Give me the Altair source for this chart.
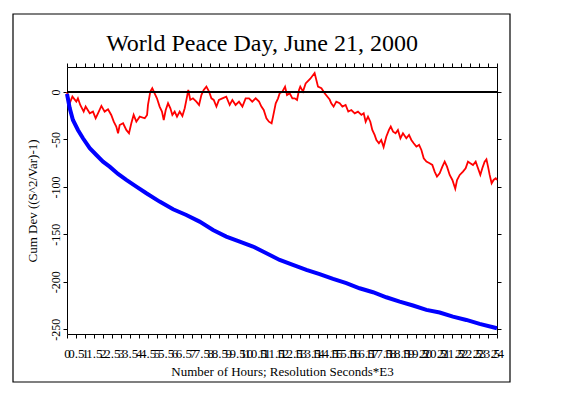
import altair as alt
import pandas as pd

# ---- data ----
hours_red = [0, 0.15, 0.30, 0.52, 0.61, 0.74, 0.93, 1.04, 1.27, 1.45, 1.60, 1.73, 1.92, 2.10, 2.29,
             2.47, 2.61, 2.75, 2.85, 2.94, 3.13, 3.31, 3.46, 3.59, 3.72, 3.87, 4.06, 4.34, 4.47,
             4.52, 4.65, 4.76, 4.89, 5.02, 5.17, 5.30, 5.40, 5.51, 5.64, 5.77, 5.88, 6.01, 6.14,
             6.29, 6.44, 6.57, 6.70, 6.77, 6.88, 7.03, 7.22, 7.37, 7.50, 7.63, 7.78, 7.93, 8.06,
             8.19, 8.34, 8.48, 8.67, 8.89, 9.08, 9.23, 9.41, 9.60, 9.79, 9.97, 10.16, 10.34, 10.53,
             10.72, 10.85, 10.98, 11.13, 11.27, 11.42, 11.50, 11.65, 11.78, 11.87, 12.02, 12.17,
             12.28, 12.43, 12.58, 12.71, 12.84, 12.95, 13.02, 13.17, 13.32, 13.58, 13.82, 14.01,
             14.20, 14.38, 14.66, 14.75, 14.88, 15.03, 15.22, 15.37, 15.55, 15.70, 15.87, 16.06,
             16.24, 16.43, 16.56, 16.67, 16.80, 16.93, 17.04, 17.17, 17.27, 17.41, 17.54, 17.67,
             17.82, 17.97, 18.07, 18.20, 18.34, 18.47, 18.61, 18.75, 18.94, 19.09, 19.22, 19.35,
             19.50, 19.65, 19.78, 19.91, 20.06, 20.24, 20.39, 20.52, 20.65, 20.80, 20.95, 21.08,
             21.21, 21.36, 21.51, 21.67, 21.77, 21.92, 22.10, 22.25, 22.38, 22.51, 22.66, 22.81,
             22.94, 23.07, 23.18, 23.31, 23.41, 23.50, 23.59, 23.70, 23.81, 23.93, 24.0]
cum_red = [0, -11.9, -4.9, -10.2, -6.7, -13.7, -20.7, -15.4, -22.5, -20.7, -27.7, -22.5, -14.7, -20.7,
           -18.3, -24.2, -31.3, -36.5, -43.5, -34.8, -33.0, -40.0, -43.5, -33.0, -24.2, -31.3, -26.0,
           -27.7, -24.2, -13.7, 0.4, 3.9, -1.4, -6.7, -15.4, -20.7, -29.5, -19.0, -11.9, -17.2, -24.2,
           -20.7, -26.0, -20.7, -25.3, -17.2, -4.9, 2.1, -8.4, -6.7, -10.2, -13.7, -3.2, 2.1, 5.6,
           0.4, -6.7, -8.4, -15.4, -8.4, -6.7, -4.9, -13.7, -8.4, -13.7, -10.2, -15.4, -6.7, -6.7,
           -10.2, -6.7, -10.2, -15.4, -19.0, -27.7, -31.3, -33.0, -26.0, -11.9, -6.7, -1.4, 0.4, 5.6,
           -3.2, -1.4, -6.7, -6.7, -8.4, 2.1, 5.6, 0.4, 9.0, 14.0, 20.0, 5.6, 4.0, -1.4, -8.0, -11.9,
           -15.4, -10.2, -11.9, -15.4, -13.7, -20.7, -19.0, -22.5, -20.7, -24.2, -22.5, -31.3, -26.0,
           -31.3, -40.0, -45.3, -50.6, -54.1, -50.6, -58.0, -47.1, -40.0, -36.5, -41.8, -43.5, -40.0,
           -48.8, -43.5, -48.8, -45.3, -50.6, -54.1, -57.6, -55.8, -61.1, -69.9, -73.4, -75.1, -76.9,
           -83.9, -89.2, -85.7, -78.7, -73.4, -78.7, -87.4, -92.7, -102.0, -92.7, -87.4, -83.9, -80.4,
           -73.4, -75.1, -76.9, -73.4, -80.4, -87.4, -80.4, -73.4, -70.9, -78.7, -87.4, -96.2, -92.7,
           -90.9, -92.7]

hours_blue = [0, 0.15, 0.33, 0.61, 0.89, 1.27, 1.64, 2.01, 2.38, 2.85, 3.31, 3.87, 4.43, 5.17, 5.92,
              6.66, 7.40, 8.15, 8.89, 9.64, 10.38, 11.13, 11.87, 12.61, 13.36, 14.10, 14.85, 15.59,
              16.33, 17.08, 17.82, 18.57, 19.31, 20.06, 20.80, 21.54, 22.29, 23.03, 23.78, 24.0]
cum_blue = [-2, -17, -29.5, -40, -48.8, -59.3, -66.4, -73.4, -78.7, -86.4, -92.7, -99.7, -106.7,
            -115.5, -123.6, -129.6, -136.6, -145.4, -152.4, -157.7, -162.9, -170, -177, -182.2,
            -187.5, -192, -197, -201.5, -206.8, -211, -216.3, -220.9, -225, -229.6, -232.4, -236.7,
            -240.2, -244.4, -247.9, -249]

x_ticks = [0, 0.5, 1, 1.5, 2, 2.5, 3, 3.5, 4, 4.5, 5, 5.5, 6, 6.5, 7, 7.5, 8, 8.5, 9, 9.5, 10,
           10.5, 11, 11.5, 12, 12.5, 13, 13.5, 14, 14.5, 15, 15.5, 16, 16.5, 17, 17.5, 18, 18.5,
           19, 19.5, 20, 20.5, 21, 21.5, 22, 22.5, 23, 23.5, 24]
y_ticks = [-250, -200, -150, -100, -50, 0]

title_text = "World Peace Day, June 21, 2000"
x_title = "Number of Hours; Resolution Seconds*E3"
y_title = "Cum Dev ((S^2/Var)-1)"

# ---- chart ----
FONT = "Liberation Serif"
W, H = 430, 267

red_df = pd.DataFrame({"hour": hours_red, "cum": cum_red})
blue_df = pd.DataFrame({"hour": hours_blue, "cum": cum_blue})
zero_df = pd.DataFrame({"cum": [0]})
frame_df = pd.DataFrame({"k": [0]})

xs = alt.Scale(domain=[0, 24], nice=False, zero=False)
ys = alt.Scale(domain=[-255, 26.3], nice=False, zero=False)

common = dict(grid=False, domainColor="black", tickColor="black", tickSize=4,
              domainWidth=1, tickWidth=1, labelColor="black", titleColor="black",
              labelFont=FONT, titleFont=FONT, titleFontWeight="normal")

x_bottom = alt.Axis(orient="bottom", values=x_ticks, format="~g", labelOverlap=False,
                    labelFlush=False, labelBound=False, labelFontSize=13, labelPadding=9,
                    title=x_title, titleFontSize=13, titlePadding=5, **common)
y_left = alt.Axis(orient="left", values=y_ticks, labelExpr="'' + datum.value",
                  labelAngle=270, labelAlign="center", labelBaseline="bottom",
                  labelOverlap=False, labelFontSize=12, labelPadding=1,
                  title=y_title, titleFontSize=13, titlePadding=10, **common)
x_top = alt.Axis(orient="top", values=x_ticks, labels=False, title=None, **common)
y_right = alt.Axis(orient="right", values=y_ticks, labels=False, title=None, **common)

red = alt.Chart(red_df).mark_line(color="#ff0000", strokeWidth=1.8).encode(
    x=alt.X("hour:Q", scale=xs, axis=x_bottom),
    y=alt.Y("cum:Q", scale=ys, axis=y_left),
)
blue = alt.Chart(blue_df).mark_line(color="#0000ff", strokeWidth=4).encode(
    x=alt.X("hour:Q", scale=xs, axis=x_top),
    y=alt.Y("cum:Q", scale=ys, axis=y_right),
)
zero = alt.Chart(zero_df).mark_rule(color="black", strokeWidth=2).encode(
    y=alt.Y("cum:Q", scale=ys, axis=None),
    x=alt.value(0), x2=alt.value(W),
)
frame = alt.Chart(frame_df).mark_rect(filled=False, stroke="black", strokeWidth=1.2).encode(
    x=alt.value(-54), x2=alt.value(443), y=alt.value(-53), y2=alt.value(315),
)

chart = alt.layer(red, blue, zero, frame).resolve_axis(x="independent", y="independent").properties(
    width=W, height=H,
    title=alt.Title(title_text, font=FONT, fontSize=24, fontWeight="normal", color="black",
                    anchor="middle", dx=-20, offset=-62, baseline="alphabetic"),
    autosize=alt.AutoSizeParams(type="none"),
    padding={"left": 59, "top": 59, "right": 50, "bottom": 50},
).configure_view(stroke=None).configure(background="white")

chart.save("out.html", embed_options={"renderer": "svg", "actions": False})
